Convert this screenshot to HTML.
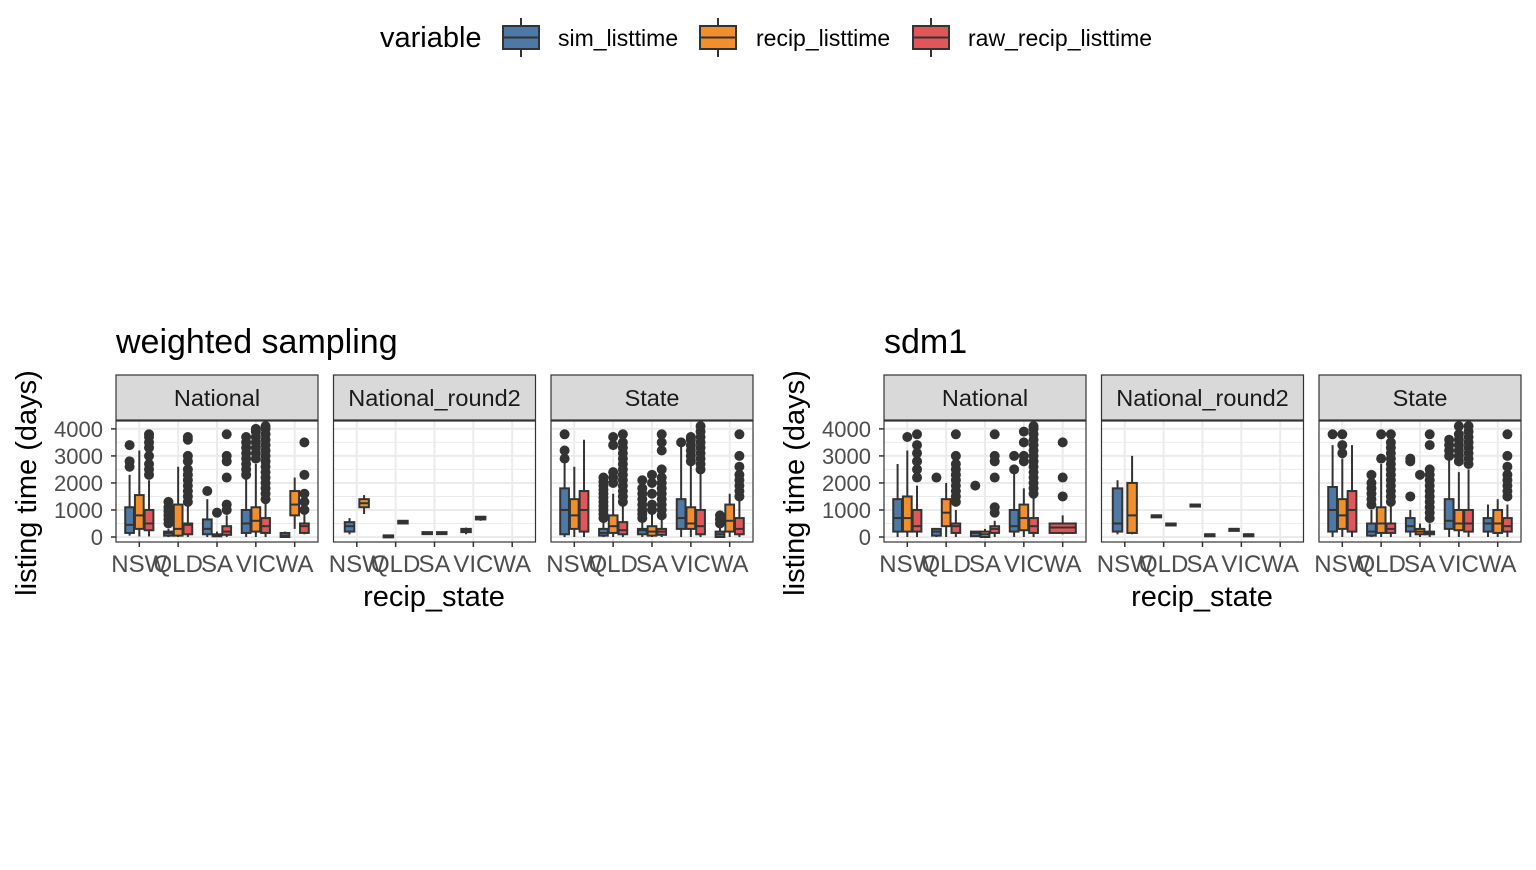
<!DOCTYPE html>
<html><head><meta charset="utf-8"><style>
body{margin:0;background:#fff;width:1536px;height:865px;overflow:hidden;font-family:"Liberation Sans",sans-serif}
</style></head><body>
<svg id="chart" width="1536" height="865" xmlns="http://www.w3.org/2000/svg" font-family="Liberation Sans, sans-serif">
<g>
<text x="380" y="47" font-size="29" fill="#000">variable</text>
<g><line x1="521" y1="18" x2="521" y2="57" stroke="#333" stroke-width="2"/><rect x="503" y="26" width="36" height="23" fill="#4E79A7" stroke="#333" stroke-width="2"/><line x1="503" y1="37.5" x2="539" y2="37.5" stroke="#333" stroke-width="2"/><text x="558" y="46" font-size="23">sim_listtime</text></g>
<g><line x1="718" y1="18" x2="718" y2="57" stroke="#333" stroke-width="2"/><rect x="700" y="26" width="36" height="23" fill="#F28E2B" stroke="#333" stroke-width="2"/><line x1="700" y1="37.5" x2="736" y2="37.5" stroke="#333" stroke-width="2"/><text x="756" y="46" font-size="23">recip_listtime</text></g>
<g><line x1="931" y1="18" x2="931" y2="57" stroke="#333" stroke-width="2"/><rect x="913" y="26" width="36" height="23" fill="#E15759" stroke="#333" stroke-width="2"/><line x1="913" y1="37.5" x2="949" y2="37.5" stroke="#333" stroke-width="2"/><text x="968" y="46" font-size="23">raw_recip_listtime</text></g>
</g>
</svg>
<script>
const states=["NSW","QLD","SA","VIC","WA"];
const facets=["National","National_round2","State"];
const yTicks=[0,1000,2000,3000,4000];
const colors=["#4E79A7","#F28E2B","#E15759"];
// box: [state, variable, slot, nslots, lo, q1, med, q3, hi, outliers]
const wsNational=[
[0,0,0,3,50,150,450,1100,2300,[2600,2800,3400]],
[0,1,1,3,20,300,800,1550,3200,[]],
[0,2,2,3,20,250,500,1000,2100,[2300,2500,2700,3000,3300,3500,3700,3800]],
[1,0,0,3,0,50,150,200,300,[500,650,800,950,1100,1300]],
[1,1,1,3,0,50,300,1200,2600,[]],
[1,2,2,3,0,100,450,500,1200,[1300,1500,1700,1900,2100,2300,2500,2800,3000,3600,3700]],
[2,0,0,3,0,100,300,650,1400,[1700]],
[2,1,1,3,0,30,60,100,200,[900]],
[2,2,2,3,0,80,200,400,800,[1000,1200,2200,2800,3000,3800]],
[3,0,0,3,0,150,500,1000,2200,[2300,2500,2700,2900,3100,3300,3500,3700]],
[3,1,1,3,0,200,600,1100,2700,[2900,3100,3300,3500,3700,3900,4000]],
[3,2,2,3,0,150,400,700,1300,[1400,1600,1800,2000,2200,2400,2600,2800,3000,3200,3400,3600,3800,4000,4100]],
[4,0,0,3,0,0,50,150,200,[]],
[4,1,1,3,300,800,1200,1700,2200,[]],
[4,2,2,3,100,150,400,500,900,[1000,1300,1600,2300,3500]]];
const wsRound2=[
[0,0,0,2,100,200,400,550,700,[]],
[0,1,1,2,850,1100,1250,1400,1550,[]],
[1,0,0,2,0,0,30,60,80,[]],
[1,1,1,2,500,500,550,600,600,[]],
[2,0,0,2,100,130,150,180,200,[]],
[2,1,1,2,120,140,160,180,200,[]],
[3,0,0,2,100,180,250,300,350,[]],
[3,1,1,2,600,650,700,750,750,[]]];
const wsState=[
[0,0,0,3,0,100,1000,1800,3200,[2900,3200,3800]],
[0,1,1,3,0,300,800,1400,2600,[]],
[0,2,2,3,0,200,1000,1700,3600,[]],
[1,0,0,3,0,50,150,300,600,[700,850,1000,1150,1300,1450,1600,1750,1900,2050,2200]],
[1,1,1,3,0,150,400,800,1600,[2000,2200,2400,3400,3700]],
[1,2,2,3,0,100,250,550,1200,[1300,1500,1700,1900,2100,2300,2500,2700,2900,3100,3300,3500,3800]],
[2,0,0,3,0,100,250,300,600,[700,850,1000,1200,1400,1600,1800,2100]],
[2,1,1,3,0,50,200,400,900,[1000,1200,1600,2000,2300]],
[2,2,2,3,0,80,200,300,700,[800,1000,1200,1400,1600,1800,2000,2200,2500,3200,3500,3800]],
[3,0,0,3,0,300,700,1400,3500,[3500]],
[3,1,1,3,0,300,500,1100,2700,[2800,3000,3200,3400,3600,3700]],
[3,2,2,3,0,100,400,1000,2400,[2500,2700,2900,3100,3300,3500,3700,3900,4100]],
[4,0,0,3,0,0,100,200,400,[500,650,800]],
[4,1,1,3,0,200,600,1200,1600,[]],
[4,2,2,3,0,100,300,700,1400,[1500,1700,1900,2100,2300,2600,3000,3800]]];
const sdNational=[
[0,0,0,3,0,200,700,1400,2700,[]],
[0,1,1,3,0,200,700,1500,3200,[3700]],
[0,2,2,3,0,200,400,1000,1900,[2200,2500,2800,3100,3400,3800]],
[1,0,0,3,0,50,200,300,300,[2200]],
[1,1,1,3,0,400,900,1400,2000,[]],
[1,2,2,3,0,150,400,500,1000,[1300,1500,1700,1900,2100,2300,2500,2700,3000,3800]],
[2,0,0,3,0,30,150,200,200,[1900]],
[2,1,1,3,0,0,100,200,300,[]],
[2,2,2,3,0,150,300,400,600,[900,1100,2200,2800,3000,3800]],
[3,0,0,3,0,200,400,1000,2400,[2500,3000]],
[3,1,1,3,0,250,700,1200,1800,[2800,3000,3500,3900]],
[3,2,2,3,0,150,400,700,1500,[1600,1800,2000,2200,2400,2600,2800,3000,3200,3400,3600,3800,4000,4100]],
[4,2,0,1,100,150,350,500,800,[1500,2200,3500]]];
const sdRound2=[
[0,0,0,2,100,200,500,1800,2100,[]],
[0,1,1,2,100,150,800,2000,3000,[]],
[1,0,0,2,800,800,800,800,800,[]],
[1,1,1,2,500,500,500,500,500,[]],
[2,0,0,2,1200,1200,1200,1200,1200,[]],
[2,1,1,2,100,100,100,100,100,[]],
[3,0,0,2,300,300,300,300,300,[]],
[3,1,1,2,100,100,100,100,100,[]]];
const sdState=[
[0,0,0,3,0,200,1000,1850,3400,[3800]],
[0,1,1,3,0,300,800,1400,2900,[3100,3400,3800]],
[0,2,2,3,0,200,1000,1700,3400,[]],
[1,0,0,3,0,50,200,500,1000,[1200,1400,1600,1800,2000,2300]],
[1,1,1,3,0,150,500,1100,2700,[2900,3800]],
[1,2,2,3,0,150,300,500,1200,[1300,1500,1700,1900,2100,2300,2500,2700,2900,3100,3300,3500,3800]],
[2,0,0,3,0,200,400,700,1000,[1500,2800,2900]],
[2,1,1,3,0,100,200,300,500,[2300]],
[2,2,2,3,0,100,150,200,500,[700,900,1100,1300,1500,1700,1900,2100,2300,2500,3400,3800]],
[3,0,0,3,0,300,600,1400,2900,[3000,3200,3400,3600]],
[3,1,1,3,0,250,500,1000,2400,[2800,3000,3200,3400,3600,3800,4100]],
[3,2,2,3,0,200,500,1000,2500,[2700,2900,3100,3300,3500,3700,3900,4100]],
[4,0,0,3,0,200,500,700,1200,[]],
[4,1,1,3,0,150,500,1000,1400,[]],
[4,2,2,3,0,200,400,700,1200,[1500,1700,1900,2100,2300,2600,3000,3800]]];

const NS="http://www.w3.org/2000/svg";
const svg=document.getElementById('chart');
function mk(tag,attrs,parent,txt){const e=document.createElementNS(NS,tag);for(const k in attrs)e.setAttribute(k,attrs[k]);if(txt!==undefined)e.textContent=txt;(parent||svg).appendChild(e);return e;}
const PT=421,PB=542,ST=375;
const yScale=v=>537-v*0.02703;
function drawPlot(x0,title,name,panelData){
  const g=mk('g',{});
  
  
  const t=mk('text',{x:x0,y:353,'font-size':34},g,title);
  
  
  const yt=mk('text',{transform:`translate(${x0-80},483) rotate(-90)`,'text-anchor':'middle','font-size':29},g,'listing time (days)');
  
  
  const xt=mk('text',{x:x0+318,y:606,'text-anchor':'middle','font-size':29},g,'recip_state');
  
  
  yTicks.forEach(v=>{
    const lb=mk('text',{x:x0-13,y:yScale(v)+8,'text-anchor':'end','font-size':22,fill:'#4d4d4d'},g,String(v));
    
    
    mk('line',{x1:x0-5,x2:x0,y1:yScale(v),y2:yScale(v),stroke:'#333','stroke-width':1.5},g);
  });
  facets.forEach((f,fi)=>{
    const px=x0+fi*217.5, w=202, step=w/5.2;
    const xs=i=>px+0.6*step+i*step;
    const pg=mk('g',{},g);
    
    
    mk('rect',{x:px,y:ST,width:w,height:45,fill:'#d9d9d9',stroke:'#333','stroke-width':1.2},pg);
    mk('text',{x:px+w/2,y:ST+31,'text-anchor':'middle','font-size':23.5,fill:'#1a1a1a'},pg,f);
    mk('rect',{x:px,y:PT,width:w,height:PB-PT,fill:'#fff'},pg);
    for(let v=-500;v<=4500;v+=500){const y=yScale(v);if(y<PT||y>PB)continue;
      mk('line',{x1:px,x2:px+w,y1:y,y2:y,stroke:'#ebebeb','stroke-width':v%1000===0?2:1},pg);}
    states.forEach((s,i)=>{
      mk('line',{x1:xs(i),x2:xs(i),y1:PT,y2:PB,stroke:'#ebebeb','stroke-width':2},pg);
      mk('line',{x1:xs(i),x2:xs(i),y1:PB,y2:PB+5,stroke:'#333','stroke-width':1.5},pg);
      const lb=mk('text',{x:xs(i),y:572,'text-anchor':'middle','font-size':24,fill:'#4d4d4d'},pg,s);
      
      
    });
    panelData[fi].forEach(b=>{
      const [si,vi,slot,ns,lo,q1,md,q3,hi,out]=b;
      const gw=0.75*step/ns, cx=xs(si)-0.375*step+gw*(slot+0.5), bw=Math.min(gw*0.9,ns===1?gw*0.9:9.5);
      const bg=mk('g',{},pg);
      
      
      mk('line',{x1:cx,x2:cx,y1:yScale(hi),y2:yScale(lo),stroke:'#333','stroke-width':2},bg);
      mk('rect',{x:cx-bw/2,y:yScale(q3),width:bw,height:Math.max(yScale(q1)-yScale(q3),2),fill:colors[vi],stroke:'#333','stroke-width':2},bg);
      mk('line',{x1:cx-bw/2,x2:cx+bw/2,y1:yScale(md),y2:yScale(md),stroke:'#333','stroke-width':2},bg);
      out.forEach(o=>mk('circle',{cx:cx,cy:yScale(o),r:5,fill:'#333'},bg));
    });
    mk('rect',{x:px,y:PT,width:w,height:PB-PT,fill:'none',stroke:'#333','stroke-width':1.2},pg);
  });
}
drawPlot(116,'weighted sampling','plot-weighted-sampling',[wsNational,wsRound2,wsState]);
drawPlot(884,'sdm1','plot-sdm1',[sdNational,sdRound2,sdState]);
</script>
</body></html>
